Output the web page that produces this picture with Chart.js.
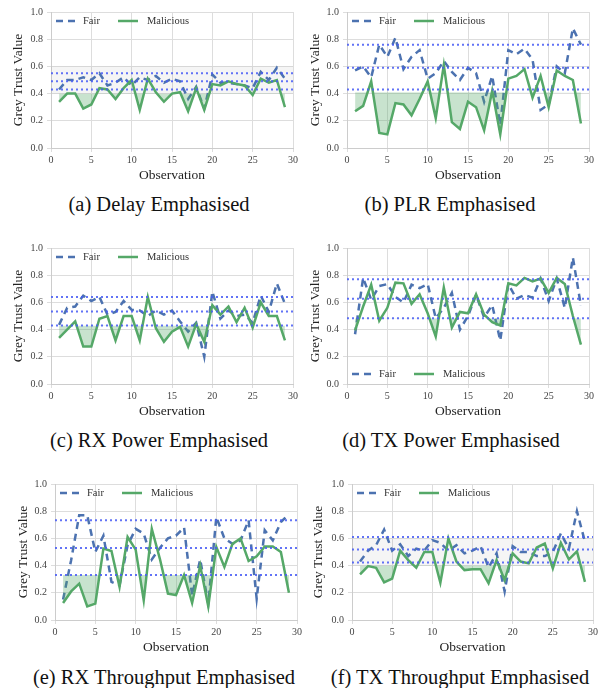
<!DOCTYPE html>
<html>
<head>
<meta charset="utf-8">
<script src="https://cdn.jsdelivr.net/npm/chart.js@4.4.1/dist/chart.umd.min.js"></script>
<style>
html,body{margin:0;padding:0;background:#fff;}
#root{position:relative;width:608px;height:688px;overflow:hidden;background:#fff;}
#root canvas{position:absolute;}
.cap{position:absolute;font-family:"Liberation Serif","Times New Roman",serif;font-size:20.5px;color:#111;white-space:nowrap;transform:translate(-50%,-50%);}
</style>
</head>
<body>
<div id="root"></div>
<script>
// ---------------- DATA ----------------
const observations = [1,2,3,4,5,6,7,8,9,10,11,12,13,14,15,16,17,18,19,20,21,22,23,24,25,26,27,28,29];
const xTicks = [0,5,10,15,20,25,30];
const yTicks = [0.0,0.2,0.4,0.6,0.8,1.0];
const seriesLabels = ['Fair','Malicious'];

// (a) Delay Emphasised
const delayFair      = [0.43,0.50,0.50,0.52,0.50,0.55,0.46,0.48,0.52,0.46,0.52,0.50,0.53,0.48,0.51,0.49,0.36,0.45,0.29,0.54,0.48,0.48,0.47,0.46,0.44,0.56,0.50,0.59,0.51];
const delayMalicious = [0.34,0.40,0.40,0.29,0.32,0.44,0.43,0.36,0.44,0.50,0.28,0.51,0.41,0.34,0.40,0.41,0.27,0.44,0.28,0.47,0.46,0.49,0.47,0.46,0.39,0.51,0.48,0.50,0.30];
const delayThresholds = [0.55,0.49,0.43];
const delayShadeLevel = 0.40;
const delayBand = [0.40,0.60];

// (b) PLR Emphasised
const plrFair      = [0.57,0.60,0.52,0.76,0.67,0.81,0.58,0.67,0.72,0.51,0.55,0.64,0.56,0.50,0.59,0.55,0.34,0.53,0.17,0.72,0.69,0.73,0.65,0.28,0.32,0.60,0.55,0.88,0.76];
const plrMalicious = [0.27,0.31,0.49,0.11,0.10,0.33,0.32,0.24,0.36,0.49,0.22,0.61,0.19,0.14,0.34,0.30,0.13,0.42,0.10,0.51,0.53,0.58,0.37,0.53,0.30,0.57,0.53,0.50,0.18];
const plrThresholds = [0.76,0.59,0.43];
const plrShadeLevel = 0.41;

// (c) RX Power Emphasised
const rxPowerFair      = [0.435,0.56,0.57,0.65,0.61,0.64,0.51,0.53,0.61,0.545,0.54,0.50,0.54,0.51,0.54,0.46,0.385,0.45,0.20,0.68,0.48,0.54,0.50,0.51,0.45,0.65,0.53,0.74,0.59];
const rxPowerMalicious = [0.34,0.40,0.46,0.275,0.275,0.48,0.50,0.32,0.50,0.50,0.32,0.64,0.41,0.31,0.385,0.42,0.275,0.44,0.31,0.58,0.51,0.57,0.455,0.56,0.415,0.60,0.50,0.50,0.32];
const rxPowerThresholds = [0.64,0.533,0.43];
const rxPowerShadeLevel = 0.43;

// (d) TX Power Emphasised
const txPowerFair      = [0.366,0.78,0.62,0.72,0.735,0.64,0.60,0.73,0.705,0.735,0.484,0.56,0.67,0.40,0.50,0.655,0.49,0.58,0.32,0.735,0.627,0.655,0.635,0.775,0.61,0.775,0.56,0.93,0.575];
const txPowerMalicious = [0.395,0.57,0.73,0.465,0.56,0.745,0.74,0.59,0.66,0.52,0.35,0.71,0.415,0.53,0.52,0.66,0.51,0.455,0.43,0.74,0.725,0.78,0.755,0.775,0.67,0.78,0.735,0.50,0.29];
const txPowerThresholds = [0.77,0.627,0.484];
const txPowerShadeLevel = 0.484;

// (e) RX Throughput Emphasised
const rxThrFair      = [0.15,0.44,0.77,0.77,0.50,0.62,0.28,0.255,0.55,0.67,0.635,0.445,0.53,0.60,0.62,0.68,0.18,0.445,0.12,0.757,0.60,0.56,0.585,0.733,0.157,0.66,0.585,0.72,0.78];
const rxThrMalicious = [0.125,0.21,0.267,0.10,0.12,0.525,0.507,0.243,0.61,0.517,0.145,0.67,0.45,0.194,0.184,0.33,0.125,0.40,0.10,0.537,0.39,0.56,0.60,0.434,0.468,0.54,0.54,0.50,0.20];
const rxThrThresholds = [0.733,0.53,0.33];
const rxThrShadeLevel = 0.33;

// (f) TX Throughput Emphasised
const txThrFair      = [0.43,0.51,0.55,0.665,0.51,0.557,0.47,0.525,0.51,0.587,0.567,0.51,0.55,0.49,0.51,0.543,0.386,0.49,0.21,0.543,0.50,0.50,0.47,0.47,0.50,0.636,0.525,0.80,0.575];
const txThrMalicious = [0.335,0.396,0.384,0.276,0.305,0.51,0.44,0.384,0.50,0.50,0.274,0.60,0.43,0.367,0.374,0.374,0.27,0.44,0.293,0.49,0.43,0.416,0.533,0.562,0.38,0.567,0.445,0.504,0.28];
const txThrThresholds = [0.61,0.518,0.423];
const txThrShadeLevel = 0.40;
const txThrBand = [0.40,0.60];

const captions = ['(a) Delay Emphasised','(b) PLR Emphasised','(c) RX Power Emphasised','(d) TX Power Emphasised','(e) RX Throughput Emphasised','(f) TX Throughput Emphasised'];

// ---------------- STYLE / LAYOUT ----------------
const FONT = '"Liberation Serif","Times New Roman",serif';
const FAIR_COLOR = '#4C72B0';
const MAL_COLOR = '#55A868';
const THR_COLOR = 'rgba(70,90,245,0.85)';
const SHADE = 'rgba(85,168,104,0.32)';

const panels = [
  {fair:delayFair, mal:delayMalicious, thr:delayThresholds, shade:delayShadeLevel, band:delayBand, cap:captions[0],
   left:0, top:0, yW:51, rPad:7, yTP:10, legend:'top', capX:159, capY:204},
  {fair:plrFair, mal:plrMalicious, thr:plrThresholds, shade:plrShadeLevel, band:null, cap:captions[1],
   left:300, top:0, yW:47, rPad:11, yTP:7, legend:'top', capX:450, capY:204},
  {fair:rxPowerFair, mal:rxPowerMalicious, thr:rxPowerThresholds, shade:rxPowerShadeLevel, band:null, cap:captions[2],
   left:0, top:236, yW:51, rPad:7, yTP:10, legend:'top', capX:159, capY:440},
  {fair:txPowerFair, mal:txPowerMalicious, thr:txPowerThresholds, shade:txPowerShadeLevel, band:null, cap:captions[3],
   left:300, top:236, yW:47, rPad:11, yTP:7, legend:'bottom', capX:451, capY:440},
  {fair:rxThrFair, mal:rxThrMalicious, thr:rxThrThresholds, shade:rxThrShadeLevel, band:null, cap:captions[4],
   left:4, top:472, yW:51, rPad:7, yTP:11, legend:'top', capX:164, capY:677},
  {fair:txThrFair, mal:txThrMalicious, thr:txThrThresholds, shade:txThrShadeLevel, band:txThrBand, cap:captions[5],
   left:304, top:472, yW:48, rPad:11, yTP:6.5, legend:'top', capX:460, capY:677}
];

// ---------------- PLUGINS ----------------
const bandPlugin = {
  id: 'band',
  beforeDatasetsDraw(chart, args, opts) {
    if (!opts || !opts.range) return;
    const {ctx, chartArea, scales} = chart;
    const t = scales.y.getPixelForValue(opts.range[1]);
    const b = scales.y.getPixelForValue(opts.range[0]);
    ctx.save();
    ctx.fillStyle = 'rgba(0,0,0,0.04)';
    ctx.fillRect(chartArea.left, t, chartArea.right - chartArea.left, b - t);
    ctx.restore();
  }
};

function drawInsideLegend(chart, items, position) {
  const {ctx, chartArea} = chart;
  const y = position === 'bottom' ? chartArea.bottom - 10 : chartArea.top + 9;
  const slots = [[5, 32], [67, 96]];
  ctx.save();
  ctx.font = '10.5px ' + FONT;
  ctx.textBaseline = 'middle';
  ctx.textAlign = 'left';
  items.forEach((d, i) => {
    const lx = chartArea.left + slots[i][0];
    ctx.strokeStyle = d.borderColor;
    ctx.lineWidth = d.borderWidth;
    ctx.setLineDash(d.borderDash || []);
    ctx.beginPath();
    ctx.moveTo(lx, y);
    ctx.lineTo(lx + 20, y);
    ctx.stroke();
    ctx.setLineDash([]);
    ctx.fillStyle = '#333';
    ctx.fillText(d.label, chartArea.left + slots[i][1], y + 0.5);
  });
  ctx.restore();
}

// ---------------- BUILD ----------------
const root = document.getElementById('root');
const toPts = vals => observations.map((x, i) => ({x, y: vals[i]}));

panels.forEach(p => {
  const cv = document.createElement('canvas');
  cv.width = 300; cv.height = 190;
  cv.style.left = p.left + 'px';
  cv.style.top = p.top + 'px';
  cv.style.width = '300px'; cv.style.height = '190px';
  root.appendChild(cv);

  const cap = document.createElement('div');
  cap.className = 'cap';
  cap.textContent = p.cap;
  cap.style.left = p.capX + 'px';
  cap.style.top = p.capY + 'px';
  root.appendChild(cap);

  const datasets = [];
  p.thr.forEach(t => {
    datasets.push({
      label: 'threshold', data: [{x: xTicks[0], y: t}, {x: xTicks[xTicks.length-1], y: t}],
      borderColor: THR_COLOR, borderWidth: 2, borderDash: [2, 3], pointRadius: 0, fill: false, order: 0
    });
  });
  datasets.push({
    label: seriesLabels[1], inLegend: true, data: toPts(p.mal),
    borderColor: MAL_COLOR, borderWidth: 2.5, pointRadius: 0, tension: 0, order: 1,
    fill: {target: {value: p.shade}, above: 'rgba(0,0,0,0)', below: SHADE}
  });
  datasets.push({
    label: seriesLabels[0], inLegend: true, data: toPts(p.fair),
    borderColor: FAIR_COLOR, borderWidth: 2.5, borderDash: [7, 5], pointRadius: 0, tension: 0, fill: false, order: 2
  });

  new Chart(cv, {
    type: 'line',
    data: {datasets},
    plugins: [bandPlugin, {
      id: 'insideLegend',
      afterDatasetsDraw(chart) {
        const items = seriesLabels.map(l => chart.data.datasets.find(d => d.label === l));
        drawInsideLegend(chart, items, p.legend);
      }
    }],
    options: {
      responsive: false,
      animation: false,
      devicePixelRatio: 1,
      layout: {padding: {left: 0, right: p.rPad, top: 12, bottom: 0}},
      plugins: {
        legend: {display: false},
        tooltip: {enabled: false},
        band: {range: p.band}
      },
      scales: {
        x: {
          type: 'linear', min: xTicks[0], max: xTicks[xTicks.length-1],
          afterBuildTicks: s => { s.ticks = xTicks.map(v => ({value: v})); },
          ticks: {font: {family: FONT, size: 10}, color: '#444', padding: 2, maxRotation: 0},
          grid: {color: '#dddddd', tickLength: 4, lineWidth: 1},
          border: {color: '#cccccc'},
          title: {display: true, text: 'Observation', color: '#222', font: {family: FONT, size: 13.5}, padding: {top: 0, bottom: 6}},
          afterFit: s => { s.height = 42; }
        },
        y: {
          min: yTicks[0], max: yTicks[yTicks.length-1],
          afterBuildTicks: s => { s.ticks = yTicks.map(v => ({value: v})); },
          ticks: {font: {family: FONT, size: 10}, color: '#444', padding: 4, callback: v => Number(v).toFixed(1)},
          grid: {color: '#dddddd', tickLength: 4, lineWidth: 1},
          border: {color: '#cccccc'},
          title: {display: true, text: 'Grey Trust Value', color: '#222', font: {family: FONT, size: 13.5}, padding: {top: p.yTP, bottom: 0}},
          afterFit: s => { s.width = p.yW; }
        }
      }
    }
  });
});
</script>
</body>
</html>
